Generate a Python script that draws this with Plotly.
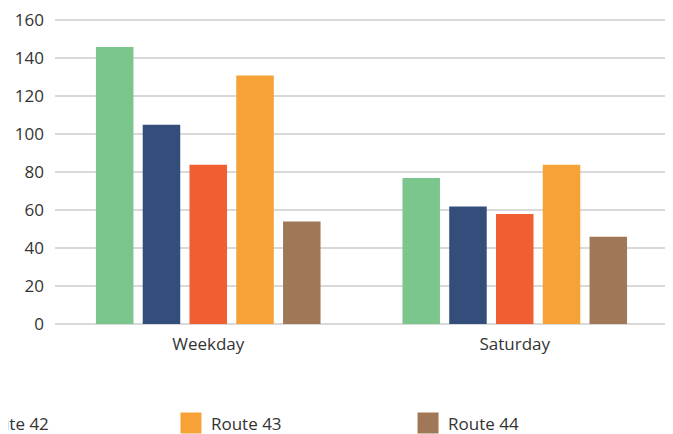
import plotly.graph_objects as go

categories = ["Weekday", "Saturday"]
series_names = ["Route 40", "Route 41", "Route 42", "Route 43", "Route 44"]
route40 = [146, 77]
route41 = [105, 62]
route42 = [84, 58]
route43 = [131, 84]
route44 = [54, 46]
series_values = [route40, route41, route42, route43, route44]
colors = ["#7BC68D", "#344E7C", "#F05E32", "#F6A237", "#A07858"]
y_ticks = [0, 20, 40, 60, 80, 100, 120, 140, 160]

FONT = "Open Sans"
TXT = "#333333"

fig = go.Figure()
for name, vals, col in zip(series_names, series_values, colors):
    fig.add_trace(go.Bar(x=categories, y=vals, name=name, marker_color=col,
                         marker_line_width=0, showlegend=False))

# legend entries (one legend per series, laid out in a wide row)
legend_x = [-0.9706, -0.584, -0.1905, 0.1892, 0.5759]
legend_keys = ["legend", "legend2", "legend3", "legend4", "legend5"]
for name, col, key in zip(series_names, colors, legend_keys):
    fig.add_trace(go.Scatter(x=[categories[0]], y=[None], mode="markers", name=name,
                             marker=dict(symbol="square", size=16, color=col,
                                         line=dict(color=col, width=5)),
                             showlegend=True, legend=key, hoverinfo="skip"))

layout_legends = {}
for key, lx in zip(legend_keys, legend_x):
    layout_legends[key] = dict(x=lx, xanchor="left", y=-0.318, yanchor="middle",
                               orientation="h", bgcolor="rgba(0,0,0,0)",
                               font=dict(family=FONT, size=17, color=TXT))

fig.update_layout(
    width=665, height=426,
    margin=dict(l=47, r=5, t=2.5, b=110, autoexpand=False),
    paper_bgcolor="white", plot_bgcolor="white",
    barmode="group", bargap=0.237, bargroupgap=0.198,
    font=dict(family=FONT, size=17, color=TXT),
    **layout_legends,
)
fig.update_yaxes(range=[0, 165], tickvals=y_ticks, showgrid=True, gridcolor="#D9D9D9",
                 gridwidth=1.5, zeroline=True, zerolinecolor="#D9D9D9", zerolinewidth=1.5,
                 showline=False, ticks="", ticklabelstandoff=10,
                 tickfont=dict(family=FONT, size=17, color=TXT))
fig.update_xaxes(showline=False, ticks="", ticklabelstandoff=8,
                 tickfont=dict(family=FONT, size=17, color=TXT))

fig.write_html("out.html")
